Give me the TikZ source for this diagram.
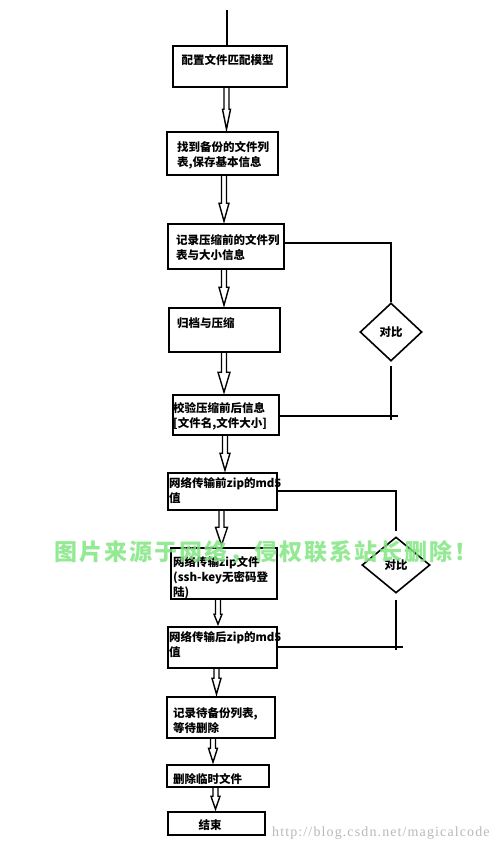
\documentclass[tikz,border=0pt]{standalone}
\usepackage{fontspec}
\setmainfont{Noto Sans CJK SC}
\newfontfamily\urlfont[LetterSpace=8]{Liberation Serif}
\usetikzlibrary{shapes.geometric,calc}
\definecolor{wmgreen}{RGB}{130,230,130}
\definecolor{urlgray}{RGB}{185,185,185}
\tikzset{
  box/.style={draw, line width=1.6pt, inner sep=0pt},
  txt/.style={inner sep=0pt, align=left, font=\fontsize{11.5}{15}\selectfont\bfseries},
  cmp/.style={draw, diamond, line width=1.6pt, inner sep=1pt, font=\fontsize{11.5}{15}\selectfont\bfseries},
  conn/.style={line width=1.6pt},
  harrowstyle/.style={line width=1.4pt, line join=miter},
  wm/.style={inner sep=0pt, text=wmgreen, text opacity=0.85, font=\fontsize{23}{23}\selectfont\bfseries},
}
% hollow arrow: from node, to node, x, head half width, head length
\newcommand{\harrow}[5]{%
  \draw[harrowstyle] let \p1=(#1.south), \p2=(#2.north) in
    ({#3pt-2.5pt},\y1) -- ({#3pt-2.5pt},{\y2+#5pt+2pt}) -- ({#3pt-#4pt},{\y2+#5pt+2pt})
    -- (#3pt,{\y2+2pt}) -- ({#3pt+#4pt},{\y2+#5pt+2pt}) -- ({#3pt+2.5pt},{\y2+#5pt+2pt})
    -- ({#3pt+2.5pt},\y1);}
\newcommand{\wmc}[1]{\makebox[25pt]{#1}}
\begin{document}
\begin{tikzpicture}[x=1pt,y=-1pt]
\useasboundingbox (0,0) rectangle (500,846);
\fill[white] (0,0) rectangle (500,846);
% boxes
\node[box, minimum width=114pt, minimum height=41pt] (b1) at (230,66.5) {};
\node[box, minimum width=111pt, minimum height=43pt] (b2) at (222.5,153.5) {};
\node[box, minimum width=116pt, minimum height=45pt] (b3) at (226,246.5) {};
\node[box, minimum width=111pt, minimum height=44pt] (b4) at (224.5,330) {};
\node[box, minimum width=106pt, minimum height=40pt] (b5) at (226,415) {};
\node[box, minimum width=109pt, minimum height=37pt] (b6) at (222.5,491.5) {};
\node[box, minimum width=106pt, minimum height=51pt] (b7) at (224,573.5) {};
\node[box, minimum width=109pt, minimum height=41pt] (b8) at (222.5,647.5) {};
\node[box, minimum width=108pt, minimum height=41pt] (b9) at (221,717.5) {};
\node[box, minimum width=102pt, minimum height=22pt] (b10) at (218,776) {};
\node[box, minimum width=97pt, minimum height=23pt] (b11) at (216.5,823.5) {};
% texts
\node[txt, anchor=center] (t1) at (227.5,60) {配置文件匹配模型};
\node[txt, anchor=north west] (t2) at (177,141) {找到备份的文件列\\表,保存基本信息};
\node[txt, anchor=north west] (t3) at (176,234) {记录压缩前的文件列\\表与大小信息};
\node[txt, anchor=west] (t4) at (177,323) {归档与压缩};
\node[txt, anchor=north west] (t5) at (173,402) {校验压缩前后信息\\{[}文件名,文件大小{]}};
\node[txt, anchor=north west] (t6) at (169,477) {网络传输前zip的md5\\值};
\node[txt, anchor=north west] (t7) at (173,556) {网络传输zip文件\\(ssh-key无密码登\\陆)};
\node[txt, anchor=north west] (t8) at (169,631) {网络传输后zip的md5\\值};
\node[txt, anchor=north west] (t9) at (173,707) {记录待备份列表,\\等待删除};
\node[txt, anchor=west] (t10) at (173,779) {删除临时文件};
\node[txt, anchor=center] (t11) at (210,825) {结束};
% diamonds
\node[cmp, minimum width=62pt, minimum height=58pt] (d1) at (391,332) {对比};
\node[cmp, minimum width=68pt, minimum height=56pt] (d2) at (396,565) {对比};
% top line
\coordinate (top) at (227,10);
\draw[conn] (top) -- (top |- b1.north);
% hollow arrows
\harrow{b1}{b2}{226.5}{4}{20}
\harrow{b2}{b3}{224}{5}{18}
\harrow{b3}{b4}{224}{5}{18}
\harrow{b4}{b5}{224}{6}{20}
\harrow{b5}{b6}{225}{5}{17}
\harrow{b6}{b7}{221.5}{6}{18}
\harrow{b7}{b8}{218}{4}{10}
\harrow{b8}{b9}{216.5}{4.5}{16}
\harrow{b9}{b10}{213}{4.5}{14}
\harrow{b10}{b11}{215.5}{4.5}{13}
% comparison connectors
\coordinate (c1) at (391,243);
\draw[conn] (b3.east |- c1) -- (c1) -- (d1.north);
\coordinate (c2) at (391,420);
\draw[conn] ($(d1.south)+(0,4)$) -- (c2);
\coordinate (c3) at (398,416);
\draw[conn] (b5.east |- c3) -- (c3);
\coordinate (c4) at (396,491);
\draw[conn] (b6.east |- c4) -- (c4) -- ($(d2.north)+(0,-5)$);
\coordinate (c5) at (396,650);
\draw[conn] ($(d2.south)+(0,6)$) -- (c5);
\coordinate (c6) at (403,647);
\draw[conn] (b8.east |- c6) -- (c6);
% url
\node[inner sep=0pt, anchor=base west, text=urlgray, font=\urlfont\fontsize{14}{14}\selectfont] (url) at (272,836) {http://blog.csdn.net/magicalcode};
% watermark
\node[wm, anchor=west] (wmk) at (53,552) {\wmc{图}\wmc{片}\wmc{来}\wmc{源}\wmc{于}\wmc{网}\wmc{络}\wmc{，}\wmc{侵}\wmc{权}\wmc{联}\wmc{系}\wmc{站}\wmc{长}\wmc{删}\wmc{除}\wmc{！}};
\end{tikzpicture}
\end{document}
